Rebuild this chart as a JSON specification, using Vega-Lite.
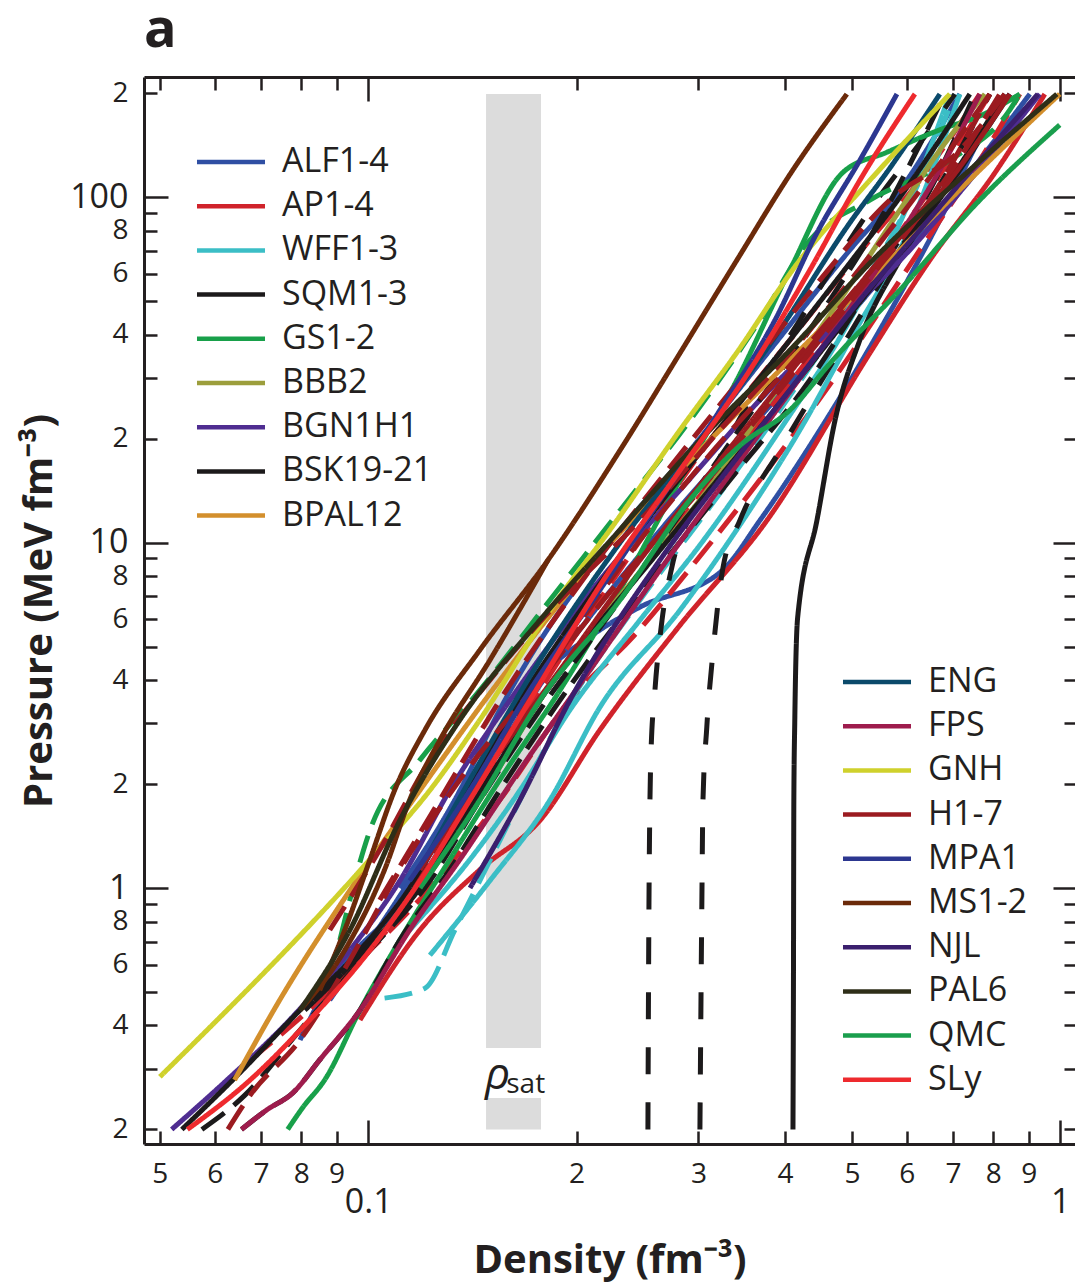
{
  "$schema": "https://vega.github.io/schema/vega-lite/v6.json",
  "width": 931,
  "height": 1067,
  "autosize": {"type": "none"},
  "padding": {"left": 144, "top": 77, "right": 0, "bottom": 141},
  "background": "white",
  "title": {"text": "a", "anchor": "start", "frame": "group", "fontSize": 54, "fontWeight": "bold", "font": "Open Sans", "color": "#231f20", "offset": 32, "baseline": "alphabetic", "dy": 57},
  "config": {
    "view": {"stroke": null},
    "font": "Open Sans",
    "axis": {"grid": false, "domainColor": "#231f20", "tickColor": "#231f20", "labelColor": "#231f20", "titleColor": "#231f20", "domainWidth": 3, "tickWidth": 2.5, "labelFont": "Open Sans", "titleFont": "Open Sans"}
  },
  "datasets": {
    "band": [
      {"x1": 0.148, "x2": 0.1777, "y1": 0.344, "y2": 199},
      {"x1": 0.148, "x2": 0.1777, "y1": 0.2, "y2": 0.2466}
    ],
    "curves": [
      {"k": "ALF1", "f": "ALF1-4", "g": 1, "d": "s"},
      {"k": "ALF2", "f": "ALF1-4", "g": 1, "d": "s"},
      {"k": "ALF3", "f": "ALF1-4", "g": 1, "d": "s"},
      {"k": "AP1", "f": "AP1-4", "g": 1, "d": "s"},
      {"k": "AP2", "f": "AP1-4", "g": 1, "d": "d"},
      {"k": "AP3", "f": "AP1-4", "g": 1, "d": "d"},
      {"k": "AP4", "f": "AP1-4", "g": 1, "d": "d"},
      {"k": "WFF1", "f": "WFF1-3", "g": 1, "d": "s"},
      {"k": "WFF2", "f": "WFF1-3", "g": 1, "d": "d"},
      {"k": "WFF3", "f": "WFF1-3", "g": 1, "d": "s"},
      {"k": "SQM1", "f": "SQM1-3", "g": 1, "d": "s"},
      {"k": "SQM2", "f": "SQM1-3", "g": 1, "d": "w"},
      {"k": "SQM3", "f": "SQM1-3", "g": 1, "d": "w"},
      {"k": "GS1", "f": "GS1-2", "g": 1, "d": "s"},
      {"k": "GS2", "f": "GS1-2", "g": 1, "d": "d"},
      {"k": "BBB2", "f": "BBB2", "g": 1, "d": "s"},
      {"k": "BGN1H1", "f": "BGN1H1", "g": 1, "d": "s"},
      {"k": "BSK19", "f": "BSK19-21", "g": 1, "d": "s"},
      {"k": "BSK20", "f": "BSK19-21", "g": 1, "d": "s"},
      {"k": "BSK21", "f": "BSK19-21", "g": 1, "d": "d"},
      {"k": "BSKd", "f": "BSK19-21", "g": 1, "d": "d"},
      {"k": "BPAL12", "f": "BPAL12", "g": 1, "d": "s"},
      {"k": "ENG", "f": "ENG", "g": 2, "d": "s"},
      {"k": "FPS", "f": "FPS", "g": 2, "d": "s"},
      {"k": "GNH", "f": "GNH", "g": 2, "d": "s"},
      {"k": "H1", "f": "H1-7", "g": 2, "d": "d"},
      {"k": "H2", "f": "H1-7", "g": 2, "d": "d"},
      {"k": "H3", "f": "H1-7", "g": 2, "d": "s"},
      {"k": "H4", "f": "H1-7", "g": 2, "d": "d"},
      {"k": "H5", "f": "H1-7", "g": 2, "d": "d"},
      {"k": "MPA1", "f": "MPA1", "g": 2, "d": "s"},
      {"k": "MS1", "f": "MS1-2", "g": 2, "d": "s"},
      {"k": "MS2", "f": "MS1-2", "g": 2, "d": "s"},
      {"k": "NJL", "f": "NJL", "g": 2, "d": "s"},
      {"k": "PAL6", "f": "PAL6", "g": 2, "d": "s"},
      {"k": "QMC", "f": "QMC", "g": 2, "d": "s"},
      {"k": "SLy", "f": "SLy", "g": 2, "d": "s"}
    ],
    "pts": [
      {"k":"ALF1","x":0.088,"y":0.474},{"k":"ALF1","x":0.113,"y":1.0},{"k":"ALF1","x":0.1357,"y":1.8},{"k":"ALF1","x":0.1657,"y":3.5},{"k":"ALF1","x":0.2162,"y":5.59},{"k":"ALF1","x":0.247,"y":6.51},{"k":"ALF1","x":0.3255,"y":8.34},{"k":"ALF1","x":0.3681,"y":11.6},{"k":"ALF1","x":0.4494,"y":21.2},{"k":"ALF1","x":0.5486,"y":41.3},{"k":"ALF1","x":0.6698,"y":85.9},{"k":"ALF1","x":0.778,"y":157},{"k":"ALF1","x":0.8454,"y":199},
      {"k":"ALF2","x":0.0797,"y":0.363},{"k":"ALF2","x":0.0851,"y":0.474},{"k":"ALF2","x":0.1167,"y":1.0},{"k":"ALF2","x":0.1403,"y":1.8},{"k":"ALF2","x":0.1713,"y":3.5},{"k":"ALF2","x":0.2553,"y":10.0},{"k":"ALF2","x":0.3332,"y":18.5},{"k":"ALF2","x":0.4494,"y":36.1},{"k":"ALF2","x":0.5963,"y":70.4},{"k":"ALF2","x":0.6924,"y":100},{"k":"ALF2","x":0.9035,"y":199},
      {"k":"ALF3","x":0.1111,"y":1.0},{"k":"ALF3","x":0.1334,"y":1.8},{"k":"ALF3","x":0.1576,"y":3.5},{"k":"ALF3","x":0.2236,"y":10.0},{"k":"ALF3","x":0.2917,"y":18.5},{"k":"ALF3","x":0.3806,"y":36.1},{"k":"ALF3","x":0.4966,"y":70.4},{"k":"ALF3","x":0.5767,"y":100},{"k":"ALF3","x":0.7159,"y":199},
      {"k":"AP1","x":0.0973,"y":0.415},{"k":"AP1","x":0.1188,"y":0.756},{"k":"AP1","x":0.145,"y":1.13},{"k":"AP1","x":0.1771,"y":1.57},{"k":"AP1","x":0.2162,"y":2.87},{"k":"AP1","x":0.2822,"y":5.77},{"k":"AP1","x":0.3768,"y":11.6},{"k":"AP1","x":0.5307,"y":35.4},{"k":"AP1","x":0.6479,"y":65.8},{"k":"AP1","x":0.8096,"y":120},{"k":"AP1","x":0.9498,"y":199},
      {"k":"AP2","x":0.0675,"y":0.318},{"k":"AP2","x":0.088,"y":0.506},{"k":"AP2","x":0.1188,"y":1.0},{"k":"AP2","x":0.145,"y":1.92},{"k":"AP2","x":0.1771,"y":3.5},{"k":"AP2","x":0.2553,"y":8.91},{"k":"AP2","x":0.3223,"y":16.2},{"k":"AP2","x":0.4205,"y":31.6},{"k":"AP2","x":0.5486,"y":65.8},{"k":"AP2","x":0.6479,"y":105},{"k":"AP2","x":0.791,"y":199},
      {"k":"AP3","x":0.1188,"y":1.0},{"k":"AP3","x":0.145,"y":1.92},{"k":"AP3","x":0.1771,"y":3.74},{"k":"AP3","x":0.239,"y":9.21},{"k":"AP3","x":0.3117,"y":19.8},{"k":"AP3","x":0.4067,"y":38.6},{"k":"AP3","x":0.5307,"y":75.2},{"k":"AP3","x":0.6267,"y":112},{"k":"AP3","x":0.7651,"y":199},
      {"k":"AP4","x":0.0973,"y":0.619},{"k":"AP4","x":0.1228,"y":1.0},{"k":"AP4","x":0.155,"y":1.8},{"k":"AP4","x":0.1957,"y":3.5},{"k":"AP4","x":0.2413,"y":5.34},{"k":"AP4","x":0.2985,"y":8.91},{"k":"AP4","x":0.3681,"y":15.2},{"k":"AP4","x":0.4803,"y":31.6},{"k":"AP4","x":0.6267,"y":70.4},{"k":"AP4","x":0.7651,"y":128},{"k":"AP4","x":0.874,"y":199},
      {"k":"WFF1","x":0.1228,"y":0.639},{"k":"WFF1","x":0.1499,"y":1.05},{"k":"WFF1","x":0.1831,"y":1.8},{"k":"WFF1","x":0.2162,"y":3.34},{"k":"WFF1","x":0.2822,"y":6.38},{"k":"WFF1","x":0.3479,"y":11.6},{"k":"WFF1","x":0.4205,"y":21.2},{"k":"WFF1","x":0.4966,"y":38.6},{"k":"WFF1","x":0.5864,"y":70.4},{"k":"WFF1","x":0.6698,"y":137},{"k":"WFF1","x":0.7159,"y":199},
      {"k":"WFF2","x":0.1056,"y":0.48},{"k":"WFF2","x":0.1208,"y":0.513},{"k":"WFF2","x":0.1334,"y":0.756},{"k":"WFF2","x":0.145,"y":1.05},{"k":"WFF2","x":0.1657,"y":1.8},{"k":"WFF2","x":0.1893,"y":3.07},{"k":"WFF2","x":0.247,"y":6.82},{"k":"WFF2","x":0.3015,"y":11.6},{"k":"WFF2","x":0.3934,"y":24.2},{"k":"WFF2","x":0.5133,"y":53.9},{"k":"WFF2","x":0.6267,"y":112},{"k":"WFF2","x":0.704,"y":199},
      {"k":"WFF3","x":0.1148,"y":0.756},{"k":"WFF3","x":0.1403,"y":1.21},{"k":"WFF3","x":0.1657,"y":1.92},{"k":"WFF3","x":0.1957,"y":3.28},{"k":"WFF3","x":0.247,"y":5.97},{"k":"WFF3","x":0.3015,"y":9.84},{"k":"WFF3","x":0.3934,"y":21.2},{"k":"WFF3","x":0.4966,"y":44.1},{"k":"WFF3","x":0.6062,"y":98.2},{"k":"WFF3","x":0.6924,"y":199},
      {"k":"SQM1","x":0.4109,"y":0.2},{"k":"SQM1","x":0.4115,"y":0.474},{"k":"SQM1","x":0.4121,"y":1.8},{"k":"SQM1","x":0.4134,"y":3.07},{"k":"SQM1","x":0.4174,"y":6.09},{"k":"SQM1","x":0.445,"y":11.6},{"k":"SQM1","x":0.4726,"y":22.6},{"k":"SQM1","x":0.5133,"y":38.6},{"k":"SQM1","x":0.5864,"y":65.8},{"k":"SQM1","x":0.7159,"y":120},{"k":"SQM1","x":0.8454,"y":199},
      {"k":"SQM2","x":0.2536,"y":0.2},{"k":"SQM2","x":0.2545,"y":0.923},{"k":"SQM2","x":0.2562,"y":2.46},{"k":"SQM2","x":0.2596,"y":3.74},{"k":"SQM2","x":0.2658,"y":5.97},{"k":"SQM2","x":0.2747,"y":8.51},{"k":"SQM2","x":0.3015,"y":13.3},{"k":"SQM2","x":0.3561,"y":25.9},{"k":"SQM2","x":0.4205,"y":44.1},{"k":"SQM2","x":0.5307,"y":91.9},{"k":"SQM2","x":0.6479,"y":157},{"k":"SQM2","x":0.704,"y":199},
      {"k":"SQM3","x":0.3015,"y":0.2},{"k":"SQM3","x":0.3035,"y":0.942},{"k":"SQM3","x":0.3045,"y":1.76},{"k":"SQM3","x":0.3085,"y":2.93},{"k":"SQM3","x":0.3148,"y":4.79},{"k":"SQM3","x":0.3255,"y":8.45},{"k":"SQM3","x":0.3444,"y":11.6},{"k":"SQM3","x":0.3934,"y":18.5},{"k":"SQM3","x":0.4803,"y":36.1},{"k":"SQM3","x":0.5864,"y":70.4},{"k":"SQM3","x":0.7159,"y":137},{"k":"SQM3","x":0.791,"y":199},
      {"k":"GS1","x":0.0765,"y":0.2},{"k":"GS1","x":0.0805,"y":0.232},{"k":"GS1","x":0.0865,"y":0.278},{"k":"GS1","x":0.0973,"y":0.443},{"k":"GS1","x":0.1111,"y":0.707},{"k":"GS1","x":0.1312,"y":1.21},{"k":"GS1","x":0.155,"y":2.06},{"k":"GS1","x":0.1893,"y":3.74},{"k":"GS1","x":0.2311,"y":7.3},{"k":"GS1","x":0.2822,"y":15.2},{"k":"GS1","x":0.341,"y":29.6},{"k":"GS1","x":0.4067,"y":61.6},{"k":"GS1","x":0.4851,"y":118},{"k":"GS1","x":0.5616,"y":135},{"k":"GS1","x":0.6765,"y":158},{"k":"GS1","x":0.7651,"y":172},{"k":"GS1","x":0.874,"y":199},
      {"k":"GS2","x":0.091,"y":0.707},{"k":"GS2","x":0.1006,"y":1.47},{"k":"GS2","x":0.1188,"y":2.35},{"k":"GS2","x":0.145,"y":3.74},{"k":"GS2","x":0.1831,"y":6.82},{"k":"GS2","x":0.2311,"y":12.4},{"k":"GS2","x":0.2917,"y":22.6},{"k":"GS2","x":0.3681,"y":44.1},{"k":"GS2","x":0.4347,"y":75.2},{"k":"GS2","x":0.5307,"y":98.2},{"k":"GS2","x":0.6924,"y":128},{"k":"GS2","x":0.8454,"y":179},{"k":"GS2","x":0.874,"y":199},
      {"k":"BBB2","x":0.1188,"y":1.0},{"k":"BBB2","x":0.145,"y":1.8},{"k":"BBB2","x":0.1771,"y":3.5},{"k":"BBB2","x":0.2553,"y":8.91},{"k":"BBB2","x":0.3015,"y":13.3},{"k":"BBB2","x":0.3806,"y":25.9},{"k":"BBB2","x":0.4803,"y":50.4},{"k":"BBB2","x":0.5864,"y":91.9},{"k":"BBB2","x":0.6698,"y":137},{"k":"BBB2","x":0.778,"y":199},
      {"k":"BGN1H1","x":0.052,"y":0.2},{"k":"BGN1H1","x":0.0625,"y":0.278},{"k":"BGN1H1","x":0.077,"y":0.415},{"k":"BGN1H1","x":0.0941,"y":0.661},{"k":"BGN1H1","x":0.1111,"y":1.05},{"k":"BGN1H1","x":0.1312,"y":1.92},{"k":"BGN1H1","x":0.1603,"y":3.5},{"k":"BGN1H1","x":0.2162,"y":7.8},{"k":"BGN1H1","x":0.2822,"y":14.2},{"k":"BGN1H1","x":0.3681,"y":25.9},{"k":"BGN1H1","x":0.4803,"y":44.1},{"k":"BGN1H1","x":0.6062,"y":70.4},{"k":"BGN1H1","x":0.7401,"y":112},{"k":"BGN1H1","x":0.9341,"y":199},
      {"k":"BSK19","x":0.0538,"y":0.2},{"k":"BSK19","x":0.0637,"y":0.278},{"k":"BSK19","x":0.0797,"y":0.443},{"k":"BSK19","x":0.0973,"y":0.661},{"k":"BSK19","x":0.1148,"y":1.0},{"k":"BSK19","x":0.1357,"y":1.8},{"k":"BSK19","x":0.1657,"y":3.5},{"k":"BSK19","x":0.2389,"y":10.0},{"k":"BSK19","x":0.3117,"y":19.8},{"k":"BSK19","x":0.4067,"y":38.6},{"k":"BSK19","x":0.5133,"y":70.4},{"k":"BSK19","x":0.5864,"y":100},{"k":"BSK19","x":0.7401,"y":199},
      {"k":"BSK20","x":0.081,"y":0.443},{"k":"BSK20","x":0.0989,"y":0.661},{"k":"BSK20","x":0.1188,"y":1.0},{"k":"BSK20","x":0.1427,"y":1.8},{"k":"BSK20","x":0.1771,"y":3.5},{"k":"BSK20","x":0.264,"y":9.52},{"k":"BSK20","x":0.3561,"y":19.8},{"k":"BSK20","x":0.4646,"y":38.6},{"k":"BSK20","x":0.5864,"y":70.4},{"k":"BSK20","x":0.6924,"y":112},{"k":"BSK20","x":0.8314,"y":199},
      {"k":"BSK21","x":0.0575,"y":0.2},{"k":"BSK21","x":0.0663,"y":0.251},{"k":"BSK21","x":0.0797,"y":0.388},{"k":"BSK21","x":0.1006,"y":0.661},{"k":"BSK21","x":0.1228,"y":1.05},{"k":"BSK21","x":0.145,"y":1.8},{"k":"BSK21","x":0.1771,"y":3.28},{"k":"BSK21","x":0.2311,"y":6.82},{"k":"BSK21","x":0.2917,"y":13.3},{"k":"BSK21","x":0.3681,"y":25.9},{"k":"BSK21","x":0.4646,"y":50.4},{"k":"BSK21","x":0.5486,"y":85.9},{"k":"BSK21","x":0.6811,"y":199},
      {"k":"BSKd","x":0.0656,"y":0.2},{"k":"BSKd","x":0.0714,"y":0.228},{"k":"BSKd","x":0.0778,"y":0.255},{"k":"BSKd","x":0.0851,"y":0.318},{"k":"BSKd","x":0.0973,"y":0.443},{"k":"BSKd","x":0.1111,"y":0.707},{"k":"BSKd","x":0.1312,"y":1.13},{"k":"BSKd","x":0.155,"y":1.92},{"k":"BSKd","x":0.1893,"y":3.5},{"k":"BSKd","x":0.2553,"y":7.8},{"k":"BSKd","x":0.3332,"y":15.2},{"k":"BSKd","x":0.4347,"y":29.6},{"k":"BSKd","x":0.5486,"y":61.6},{"k":"BSKd","x":0.6479,"y":105},{"k":"BSKd","x":0.7525,"y":199},
      {"k":"BPAL12","x":0.0641,"y":0.278},{"k":"BPAL12","x":0.0745,"y":0.474},{"k":"BPAL12","x":0.0941,"y":0.985},{"k":"BPAL12","x":0.1188,"y":1.92},{"k":"BPAL12","x":0.155,"y":4.0},{"k":"BPAL12","x":0.2162,"y":9.21},{"k":"BPAL12","x":0.3015,"y":18.5},{"k":"BPAL12","x":0.4205,"y":36.1},{"k":"BPAL12","x":0.5729,"y":67.1},{"k":"BPAL12","x":0.7651,"y":120},{"k":"BPAL12","x":0.998,"y":199},
      {"k":"ENG","x":0.1188,"y":1.13},{"k":"ENG","x":0.1403,"y":2.06},{"k":"ENG","x":0.1771,"y":4.57},{"k":"ENG","x":0.2311,"y":10.0},{"k":"ENG","x":0.3015,"y":19.8},{"k":"ENG","x":0.3934,"y":41.3},{"k":"ENG","x":0.4916,"y":82.0},{"k":"ENG","x":0.5729,"y":125},{"k":"ENG","x":0.6698,"y":199},
      {"k":"FPS","x":0.0656,"y":0.2},{"k":"FPS","x":0.0714,"y":0.228},{"k":"FPS","x":0.0778,"y":0.255},{"k":"FPS","x":0.0851,"y":0.318},{"k":"FPS","x":0.0973,"y":0.443},{"k":"FPS","x":0.1148,"y":0.756},{"k":"FPS","x":0.1357,"y":1.21},{"k":"FPS","x":0.1657,"y":2.2},{"k":"FPS","x":0.2092,"y":4.28},{"k":"FPS","x":0.264,"y":8.34},{"k":"FPS","x":0.3444,"y":17.3},{"k":"FPS","x":0.4494,"y":36.1},{"k":"FPS","x":0.5672,"y":70.4},{"k":"FPS","x":0.6698,"y":120},{"k":"FPS","x":0.7651,"y":199},
      {"k":"GNH","x":0.05,"y":0.284},{"k":"GNH","x":0.1006,"y":1.21},{"k":"GNH","x":0.1228,"y":1.92},{"k":"GNH","x":0.145,"y":3.07},{"k":"GNH","x":0.1831,"y":6.38},{"k":"GNH","x":0.2236,"y":10.9},{"k":"GNH","x":0.2822,"y":21.2},{"k":"GNH","x":0.3388,"y":34.9},{"k":"GNH","x":0.4205,"y":65.8},{"k":"GNH","x":0.5307,"y":112},{"k":"GNH","x":0.6924,"y":199},
      {"k":"H1","x":0.1167,"y":1.0},{"k":"H1","x":0.1427,"y":1.92},{"k":"H1","x":0.1742,"y":3.74},{"k":"H1","x":0.235,"y":8.91},{"k":"H1","x":0.3065,"y":17.3},{"k":"H1","x":0.4135,"y":33.8},{"k":"H1","x":0.5486,"y":65.8},{"k":"H1","x":0.6811,"y":112},{"k":"H1","x":0.8177,"y":199},
      {"k":"H2","x":0.1039,"y":0.923},{"k":"H2","x":0.1269,"y":1.8},{"k":"H2","x":0.155,"y":3.5},{"k":"H2","x":0.2092,"y":8.34},{"k":"H2","x":0.264,"y":15.2},{"k":"H2","x":0.3444,"y":29.6},{"k":"H2","x":0.4494,"y":57.6},{"k":"H2","x":0.5672,"y":98.2},{"k":"H2","x":0.7159,"y":137},{"k":"H2","x":0.8314,"y":199},
      {"k":"H3","x":0.1188,"y":1.13},{"k":"H3","x":0.145,"y":2.06},{"k":"H3","x":0.1893,"y":4.28},{"k":"H3","x":0.247,"y":8.91},{"k":"H3","x":0.3223,"y":17.3},{"k":"H3","x":0.4205,"y":33.8},{"k":"H3","x":0.5486,"y":65.8},{"k":"H3","x":0.6924,"y":112},{"k":"H3","x":0.8454,"y":199},
      {"k":"H4","x":0.0627,"y":0.2},{"k":"H4","x":0.0675,"y":0.251},{"k":"H4","x":0.0797,"y":0.363},{"k":"H4","x":0.0941,"y":0.619},{"k":"H4","x":0.1111,"y":1.13},{"k":"H4","x":0.1357,"y":2.06},{"k":"H4","x":0.1771,"y":4.0},{"k":"H4","x":0.2311,"y":7.8},{"k":"H4","x":0.3015,"y":14.2},{"k":"H4","x":0.3934,"y":27.7},{"k":"H4","x":0.5133,"y":53.9},{"k":"H4","x":0.6479,"y":98.2},{"k":"H4","x":0.791,"y":199},
      {"k":"H5","x":0.088,"y":0.756},{"k":"H5","x":0.1039,"y":1.29},{"k":"H5","x":0.1228,"y":2.35},{"k":"H5","x":0.1499,"y":4.0},{"k":"H5","x":0.1893,"y":6.82},{"k":"H5","x":0.247,"y":11.6},{"k":"H5","x":0.3223,"y":21.2},{"k":"H5","x":0.4347,"y":41.3},{"k":"H5","x":0.5672,"y":80.4},{"k":"H5","x":0.6924,"y":137},{"k":"H5","x":0.791,"y":199},
      {"k":"MPA1","x":0.1148,"y":1.05},{"k":"MPA1","x":0.1403,"y":1.92},{"k":"MPA1","x":0.1713,"y":3.74},{"k":"MPA1","x":0.2162,"y":7.3},{"k":"MPA1","x":0.264,"y":13.3},{"k":"MPA1","x":0.3223,"y":24.2},{"k":"MPA1","x":0.387,"y":44.1},{"k":"MPA1","x":0.4449,"y":78.8},{"k":"MPA1","x":0.5133,"y":128},{"k":"MPA1","x":0.5806,"y":199},
      {"k":"MS1","x":0.0851,"y":0.506},{"k":"MS1","x":0.0925,"y":0.756},{"k":"MS1","x":0.1006,"y":1.21},{"k":"MS1","x":0.1092,"y":1.92},{"k":"MS1","x":0.1208,"y":2.87},{"k":"MS1","x":0.145,"y":4.89},{"k":"MS1","x":0.1819,"y":8.91},{"k":"MS1","x":0.2311,"y":18.5},{"k":"MS1","x":0.2822,"y":35.4},{"k":"MS1","x":0.341,"y":65.8},{"k":"MS1","x":0.4108,"y":120},{"k":"MS1","x":0.4916,"y":199},
      {"k":"MS2","x":0.0797,"y":0.443},{"k":"MS2","x":0.0925,"y":0.661},{"k":"MS2","x":0.1056,"y":1.13},{"k":"MS2","x":0.1148,"y":1.8},{"k":"MS2","x":0.1269,"y":2.68},{"k":"MS2","x":0.1499,"y":4.57},{"k":"MS2","x":0.1819,"y":8.91},
      {"k":"NJL","x":0.1403,"y":1.0},{"k":"NJL","x":0.1657,"y":1.8},{"k":"NJL","x":0.1957,"y":3.5},{"k":"NJL","x":0.264,"y":8.91},{"k":"NJL","x":0.3223,"y":15.2},{"k":"NJL","x":0.4067,"y":27.7},{"k":"NJL","x":0.5133,"y":50.4},{"k":"NJL","x":0.6267,"y":80.4},{"k":"NJL","x":0.7651,"y":128},{"k":"NJL","x":0.9279,"y":199},
      {"k":"PAL6","x":0.0797,"y":0.443},{"k":"PAL6","x":0.0941,"y":0.756},{"k":"PAL6","x":0.1111,"y":1.57},{"k":"PAL6","x":0.1357,"y":3.07},{"k":"PAL6","x":0.1771,"y":5.97},{"k":"PAL6","x":0.2311,"y":10.9},{"k":"PAL6","x":0.3015,"y":19.8},{"k":"PAL6","x":0.4067,"y":36.1},{"k":"PAL6","x":0.5486,"y":69.0},{"k":"PAL6","x":0.7401,"y":120},{"k":"PAL6","x":0.9884,"y":199},
      {"k":"QMC","x":0.1188,"y":1.0},{"k":"QMC","x":0.145,"y":1.8},{"k":"QMC","x":0.1771,"y":3.5},{"k":"QMC","x":0.2311,"y":6.82},{"k":"QMC","x":0.2917,"y":13.3},{"k":"QMC","x":0.3444,"y":19.1},{"k":"QMC","x":0.4067,"y":24.2},{"k":"QMC","x":0.4693,"y":33.8},{"k":"QMC","x":0.5864,"y":53.9},{"k":"QMC","x":0.7651,"y":98.2},{"k":"QMC","x":0.998,"y":162},
      {"k":"SLy","x":0.0548,"y":0.2},{"k":"SLy","x":0.0675,"y":0.278},{"k":"SLy","x":0.0823,"y":0.415},{"k":"SLy","x":0.1006,"y":0.661},{"k":"SLy","x":0.1188,"y":1.05},{"k":"SLy","x":0.1403,"y":1.8},{"k":"SLy","x":0.1713,"y":3.5},{"k":"SLy","x":0.2236,"y":8.34},{"k":"SLy","x":0.2822,"y":16.2},{"k":"SLy","x":0.3561,"y":31.6},{"k":"SLy","x":0.4347,"y":61.6},{"k":"SLy","x":0.5133,"y":112},{"k":"SLy","x":0.6164,"y":199}
    ]
  },
  "layer": [
    {
      "data": {"name": "band"},
      "mark": {"type": "rect", "color": "#dcdcdc"},
      "encoding": {
        "x": {"field": "x1", "type": "quantitative",
          "scale": {"type": "log", "domain": [0.04743, 1.0501], "nice": false, "zero": false},
          "axis": {
            "orient": "bottom",
            "values": [0.05, 0.06, 0.07, 0.08, 0.09, 0.1, 0.2, 0.3, 0.4, 0.5, 0.6, 0.7, 0.8, 0.9, 1],
            "tickSize": {"condition": {"test": "datum.value==0.1||datum.value==1", "value": -24}, "value": -13},
            "labelPadding": {"condition": {"test": "datum.value==0.1||datum.value==1", "value": 65}, "value": 29},
            "labelFontSize": {"condition": {"test": "datum.value==0.1||datum.value==1", "value": 34}, "value": 28},
            "labelExpr": "datum.value < 0.095 ? '' + round(datum.value*100) : (datum.value < 0.15 ? '0.1' : (datum.value > 0.95 ? '1' : '' + round(datum.value*10)))",
            "labelOverlap": false, "labelFlush": false, "labelBound": false,
            "title": "Density (fm⁻³)", "titleFontSize": 40, "titleFontWeight": "bold", "titlePadding": 21
          }},
        "x2": {"field": "x2"},
        "y": {"field": "y1", "type": "quantitative",
          "scale": {"type": "log", "domain": [0.1815, 223], "nice": false, "zero": false},
          "axis": {
            "orient": "left",
            "values": [0.2, 0.3, 0.4, 0.5, 0.6, 0.7, 0.8, 0.9, 1, 2, 3, 4, 5, 6, 7, 8, 9, 10, 20, 30, 40, 50, 60, 70, 80, 90, 100, 200],
            "tickSize": {"condition": {"test": "datum.value==1||datum.value==10||datum.value==100", "value": -24}, "value": -13},
            "labelPadding": {"condition": {"test": "datum.value==1||datum.value==10||datum.value==100", "value": 40}, "value": 29},
            "labelFontSize": {"condition": {"test": "datum.value==1||datum.value==10||datum.value==100", "value": 34}, "value": 28},
            "labelExpr": "indexof([1,10,100], datum.value) >= 0 ? '' + datum.value : (indexof([0.2,0.4,0.6,0.8,2,4,6,8,20,40,60,80,200], datum.value) >= 0 ? '' + round(datum.value / pow(10, floor(log(datum.value)/LN10 + 0.000001))) : '')",
            "labelOverlap": false, "labelFlush": false, "labelBound": false,
            "title": "Pressure (MeV fm⁻³)", "titleFontSize": 40, "titleFontWeight": "bold", "titlePadding": 10
          }},
        "y2": {"field": "y2"}
      }
    },
    {
      "data": {"name": "band"},
      "mark": {"type": "rect", "opacity": 0},
      "encoding": {
        "x": {"field": "x1", "type": "quantitative",
          "scale": {"type": "log", "domain": [0.04743, 1.0501], "nice": false, "zero": false},
          "axis": {
            "orient": "top",
            "values": [0.05, 0.06, 0.07, 0.08, 0.09, 0.1, 0.2, 0.3, 0.4, 0.5, 0.6, 0.7, 0.8, 0.9, 1],
            "tickSize": {"condition": {"test": "datum.value==0.1||datum.value==1", "value": -24}, "value": -13},
            "labels": false, "title": null, "minExtent": 0, "maxExtent": 0
          }},
        "x2": {"field": "x2"},
        "y": {"field": "y1", "type": "quantitative",
          "scale": {"type": "log", "domain": [0.1815, 223], "nice": false, "zero": false},
          "axis": {
            "orient": "right",
            "values": [0.2, 0.3, 0.4, 0.5, 0.6, 0.7, 0.8, 0.9, 1, 2, 3, 4, 5, 6, 7, 8, 9, 10, 20, 30, 40, 50, 60, 70, 80, 90, 100, 200],
            "tickSize": {"condition": {"test": "datum.value==1||datum.value==10||datum.value==100", "value": -22}, "value": -11},
            "labels": false, "domain": false, "title": null
          }},
        "y2": {"field": "y2"}
      }
    },
    {
      "data": {"values": [{"t": "ρ", "x": 0.1475, "y": 0.262}]},
      "mark": {"type": "text", "font": "Open Sans", "fontStyle": "italic", "fontSize": 44, "align": "left", "baseline": "alphabetic", "color": "#231f20"},
      "encoding": {
        "x": {"field": "x", "type": "quantitative", "scale": {"type": "log", "domain": [0.04743, 1.0501], "nice": false, "zero": false}, "axis": null},
        "y": {"field": "y", "type": "quantitative", "scale": {"type": "log", "domain": [0.1815, 223], "nice": false, "zero": false}, "axis": null},
        "text": {"field": "t"}
      }
    },
    {
      "data": {"values": [{"t": "sat", "x": 0.1583, "y": 0.255}]},
      "mark": {"type": "text", "font": "Open Sans", "fontSize": 28, "align": "left", "baseline": "alphabetic", "color": "#231f20"},
      "encoding": {
        "x": {"field": "x", "type": "quantitative", "scale": {"type": "log", "domain": [0.04743, 1.0501], "nice": false, "zero": false}, "axis": null},
        "y": {"field": "y", "type": "quantitative", "scale": {"type": "log", "domain": [0.1815, 223], "nice": false, "zero": false}, "axis": null},
        "text": {"field": "t"}
      }
    },
    {
      "data": {"name": "pts"},
      "transform": [
        {"lookup": "k", "from": {"data": {"name": "curves"}, "key": "k", "fields": ["f", "g", "d"]}},
        {"filter": "datum.g == 1"}
      ],
      "mark": {"type": "line", "strokeWidth": 5, "strokeCap": "butt", "interpolate": "monotone", "clip": true},
      "encoding": {
        "x": {"field": "x", "type": "quantitative", "scale": {"type": "log", "domain": [0.04743, 1.0501], "nice": false, "zero": false}, "axis": null},
        "y": {"field": "y", "type": "quantitative", "scale": {"type": "log", "domain": [0.1815, 223], "nice": false, "zero": false}, "axis": null},
        "detail": {"field": "k"},
        "order": {"field": "y", "type": "quantitative"},
        "strokeDash": {"field": "d", "type": "nominal", "scale": {"domain": ["s", "d", "w"], "range": [[1, 0], [28, 12], [27, 28]]}, "legend": null},
        "color": {"field": "f", "type": "nominal",
          "scale": {"domain": ["ALF1-4", "AP1-4", "WFF1-3", "SQM1-3", "GS1-2", "BBB2", "BGN1H1", "BSK19-21", "BPAL12"],
                    "range": ["#2f4fa3", "#d0232b", "#3bbec6", "#1c1a1b", "#18a04a", "#9c9e3c", "#4f2d91", "#1c1a1b", "#d38f2c"]},
          "legend": {"orient": "none", "legendX": 70, "legendY": 68, "direction": "vertical", "title": null, "symbolType": "M-3,0H3", "symbolSize": 514, "symbolStrokeWidth": 4.5, "symbolFillColor": "transparent", "labelFontSize": 34, "labelFont": "Open Sans", "labelColor": "#231f20", "labelOffset": 34, "labelLimit": 400, "rowPadding": 10.2, "padding": 0, "symbolOffset": 0}}
      }
    },
    {
      "data": {"name": "pts"},
      "transform": [
        {"lookup": "k", "from": {"data": {"name": "curves"}, "key": "k", "fields": ["f", "g", "d"]}},
        {"filter": "datum.g == 2"}
      ],
      "mark": {"type": "line", "strokeWidth": 5, "strokeCap": "butt", "interpolate": "monotone", "clip": true},
      "encoding": {
        "x": {"field": "x", "type": "quantitative", "scale": {"type": "log", "domain": [0.04743, 1.0501], "nice": false, "zero": false}, "axis": null},
        "y": {"field": "y", "type": "quantitative", "scale": {"type": "log", "domain": [0.1815, 223], "nice": false, "zero": false}, "axis": null},
        "detail": {"field": "k"},
        "order": {"field": "y", "type": "quantitative"},
        "strokeDash": {"field": "d", "type": "nominal", "scale": {"domain": ["s", "d", "w"], "range": [[1, 0], [28, 12], [27, 28]]}, "legend": null},
        "color": {"field": "f", "type": "nominal",
          "scale": {"domain": ["ENG", "FPS", "GNH", "H1-7", "MPA1", "MS1-2", "NJL", "PAL6", "QMC", "SLy"],
                    "range": ["#0b4a6b", "#9e1c4d", "#cfd12c", "#9b1b20", "#2c3790", "#6b2a0a", "#3b1f6e", "#2e2e18", "#1a9e4d", "#ee2a2e"]},
          "legend": {"orient": "none", "legendX": 716, "legendY": 588, "direction": "vertical", "title": null, "symbolType": "M-3,0H3", "symbolSize": 514, "symbolStrokeWidth": 4.5, "symbolFillColor": "transparent", "labelFontSize": 34, "labelFont": "Open Sans", "labelColor": "#231f20", "labelOffset": 34, "labelLimit": 400, "rowPadding": 10.2, "padding": 0, "symbolOffset": 0}}
      }
    }
  ],
  "resolve": {"scale": {"color": "independent"}, "axis": {"x": "independent", "y": "independent"}}
}
